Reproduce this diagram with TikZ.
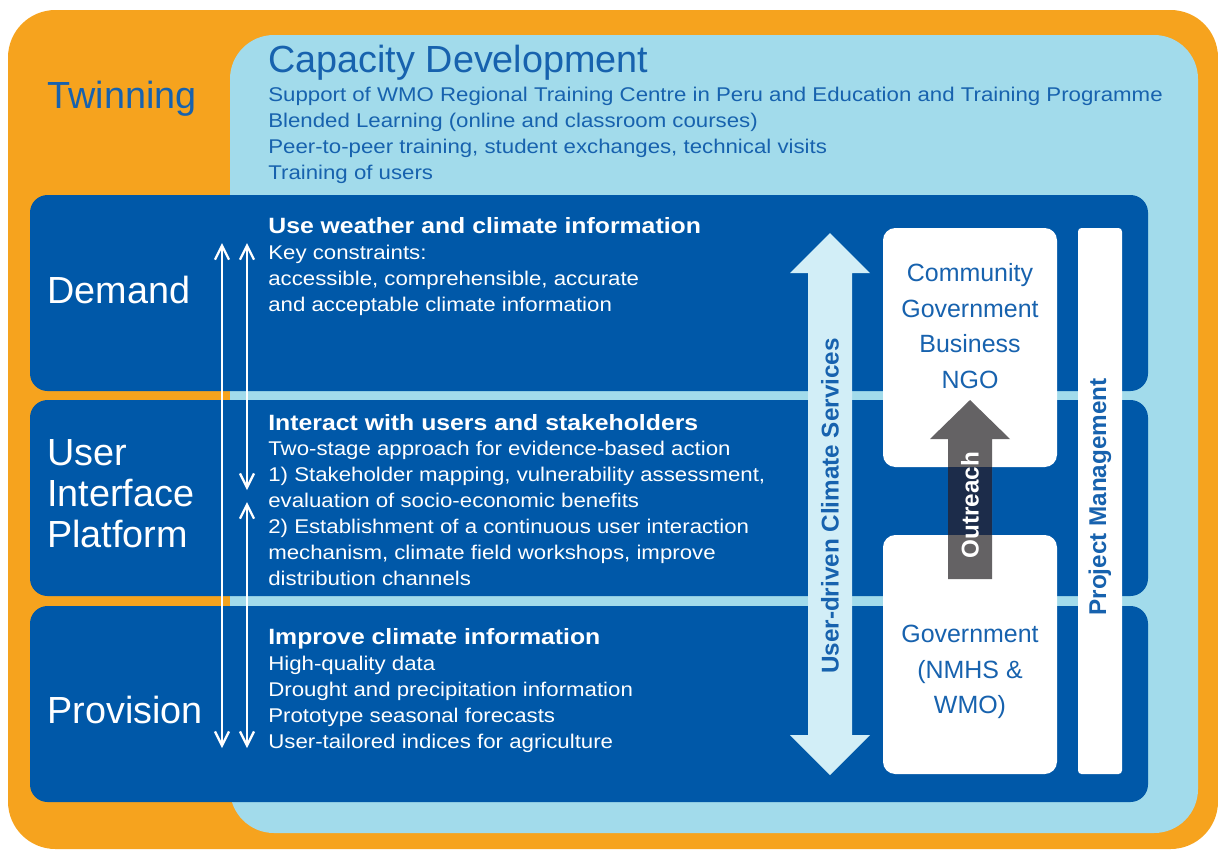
\documentclass[tikz,border=0pt]{standalone}
\usepackage{fontspec}
\setmainfont{Liberation Sans}
\newfontfamily\bodyfont[FakeStretch=1.12]{Liberation Sans}
\usetikzlibrary{arrows.meta}
\definecolor{twinorange}{HTML}{F6A31E}
\definecolor{capblue}{HTML}{A2DBEB}
\definecolor{bandblue}{HTML}{0058A8}
\definecolor{textblue}{HTML}{1762AE}
\definecolor{servblue}{HTML}{D2EEF7}
\definecolor{outgray}{HTML}{646264}
\definecolor{outnavy}{HTML}{1C2C4A}
\tikzset{
  panel/.style={fill=bandblue,rounded corners=10pt},
  whitebox/.style={fill=white,rounded corners=7pt},
  bigtitle/.style={anchor=base west,inner sep=0pt,align=left,font=\fontsize{21.5}{23.2}\selectfont},
  bodytext/.style={anchor=base west,inner sep=0pt,align=left,font=\bodyfont\fontsize{11.3}{14.7}\selectfont},
  boxtext/.style={inner sep=0pt,align=center,text=textblue,font=\fontsize{14.2}{20.4}\selectfont},
  vtext/.style={rotate=90,inner sep=0pt,font=\bfseries\fontsize{13.8}{16}\selectfont},
  flow/.style={white,line width=1.3pt,{Straight Barb[length=8pt,width=8pt]}-{Straight Barb[length=8pt,width=8pt]}}
}
\newcommand{\headline}[1]{{\bfseries\fontsize{12.6}{14.7}\selectfont #1}}
\begin{document}
\begin{tikzpicture}[x=0.02cm,y=-0.02cm]
  \useasboundingbox (0,0) rectangle (1218,850);
  \clip (0,0) rectangle (1218,850);
  \fill[twinorange,rounded corners=27pt] (8,10) rectangle (1218,849);
  \fill[capblue,rounded corners=25pt] (230,35) rectangle (1198,833);
  \fill[panel] (30,195) rectangle (1148,391);
  \fill[panel] (30,400) rectangle (1148,596);
  \fill[panel] (30,606) rectangle (1148,802);

  \coordinate (ltop) at (222,243);
  \coordinate (lbot) at (222,748);
  \coordinate (rtop) at (247,243);
  \coordinate (rmidup) at (247,490);
  \coordinate (rmiddown) at (247,502);
  \coordinate (rbot) at (247,748);
  \draw[flow] (ltop) -- (lbot);
  \draw[flow] (rtop) -- (rmidup);
  \draw[flow] (rmiddown) -- (rbot);

  \fill[servblue] (830,233) -- (870,273) -- (852,273) -- (852,735) -- (870,735) -- (830,775)
    -- (790,735) -- (808,735) -- (808,273) -- (790,273) -- cycle;
  \node[vtext,text=textblue] (ucs) at (830,506) {User-driven Climate Services};

  \fill[whitebox] (883,228) rectangle (1057,467);
  \fill[whitebox] (883,535) rectangle (1057,774);
  \fill[white,rounded corners=2pt] (1078,228) rectangle (1122,774);
  \node[boxtext] (users) at (970,326) {Community\\Government\\Business\\NGO};
  \node[boxtext] (govt) at (970,672) {Government\\(NMHS \&\\WMO)};

  \fill[outgray] (970,400) -- (1010,439) -- (992,439) -- (992,579) -- (948,579) -- (948,439)
    -- (930,439) -- cycle;
  \fill[outnavy] (948,467) rectangle (992,535);
  \node[vtext,text=white] (outreach) at (970,505) {Outreach};
  \node[vtext,text=textblue] (pm) at (1100,497) {Project Management};

  \node[bigtitle,text=textblue] (twinning) at (47,108) {Twinning};
  \node[bigtitle,text=textblue] (capdev) at (268,72) {Capacity Development};
  \node[bodytext,text=textblue] (capdevtxt) at (268,179) {Support of WMO Regional Training Centre in Peru and Education and Training Programme\\
    Blended Learning (online and classroom courses)\\
    Peer-to-peer training, student exchanges, technical visits\\
    Training of users};

  \node[bigtitle,text=white] (demand) at (47,303) {Demand};
  \node[bigtitle,text=white] (uip) at (47,547) {User\\Interface\\Platform};
  \node[bigtitle,text=white] (provision) at (47,723) {Provision};

  \node[bodytext,text=white] (demandtxt) at (268,311) {\headline{Use weather and climate information}\\
    Key constraints:\\
    accessible, comprehensible, accurate\\
    and acceptable climate information};
  \node[bodytext,text=white] (uiptxt) at (268,585) {\headline{Interact with users and stakeholders}\\
    Two-stage approach for evidence-based action\\
    1) Stakeholder mapping, vulnerability assessment,\\
    evaluation of socio-economic benefits\\
    2) Establishment of a continuous user interaction\\
    mechanism, climate field workshops, improve\\
    distribution channels};
  \node[bodytext,text=white] (provtxt) at (268,748) {\headline{Improve climate information}\\
    High-quality data\\
    Drought and precipitation information\\
    Prototype seasonal forecasts\\
    User-tailored indices for agriculture};
\end{tikzpicture}
\end{document}
